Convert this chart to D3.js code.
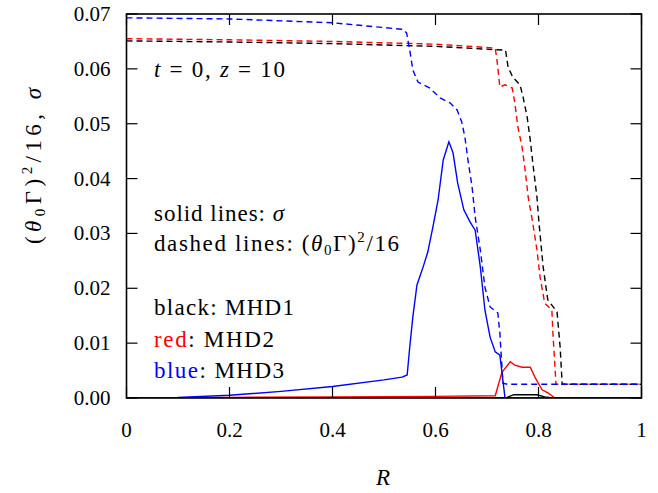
<!DOCTYPE html>
<html>
<head>
<meta charset="utf-8">
<script src="https://cdn.jsdelivr.net/npm/d3@7"></script>
<style>
  body { margin: 0; background: #fff; }
  text { font-family: "Liberation Serif", "DejaVu Serif", serif; fill: #000; }
</style>
</head>
<body>
<div id="chart"></div>
<script>
// [R, value] pairs
var mhd1Sigma = [[0, 0], [0.72, 0], [0.739, 0.0001], [0.752, 0.0006], [0.797, 0.0006], [0.812, 0.0002], [0.828, 0], [1, 0]];
var mhd2Sigma = [[0, 0], [0.2, 0.0001], [0.4, 0.0002], [0.6, 0.0003], [0.716, 0.0004], [0.729, 0.0047], [0.745, 0.0066],
  [0.754, 0.0060], [0.768, 0.0056], [0.784, 0.0056], [0.793, 0.0038], [0.807, 0.0015], [0.819, 0.0009], [0.832, 0], [1, 0]];
var mhd3Sigma = [[0, 0], [0.1, 0.0001], [0.2, 0.0005], [0.3, 0.0012], [0.4, 0.0021], [0.5, 0.0033], [0.535, 0.0038],
  [0.545, 0.0042], [0.550, 0.0093], [0.556, 0.0148], [0.564, 0.0206], [0.576, 0.0239], [0.585, 0.0266], [0.595, 0.0312],
  [0.605, 0.0361], [0.615, 0.0434], [0.626, 0.0467], [0.634, 0.0447], [0.643, 0.0392], [0.655, 0.0343], [0.667, 0.0321],
  [0.677, 0.0306], [0.687, 0.0239], [0.696, 0.0160], [0.706, 0.0111], [0.716, 0.0084], [0.725, 0.0078], [0.735, 0], [1, 0]];

var mhd1Gamma = [[0, 0.0651], [0.2, 0.0649], [0.4, 0.0646], [0.6, 0.0641], [0.736, 0.0634], [0.741, 0.0603], [0.750, 0.0585],
  [0.764, 0.0571], [0.770, 0.0549], [0.778, 0.0512], [0.784, 0.0470], [0.789, 0.0428], [0.797, 0.0366], [0.801, 0.0319],
  [0.809, 0.0239], [0.818, 0.0179], [0.836, 0.0157], [0.842, 0.0093], [0.846, 0.0025], [1, 0.0025]];
var mhd2Gamma = [[0, 0.0655], [0.2, 0.0653], [0.4, 0.0650], [0.6, 0.0645], [0.716, 0.0638], [0.720, 0.0611], [0.725, 0.0567],
  [0.735, 0.0571], [0.749, 0.0565], [0.754, 0.0538], [0.760, 0.0494], [0.768, 0.0458], [0.774, 0.0416], [0.780, 0.0366],
  [0.788, 0.0324], [0.797, 0.0270], [0.803, 0.0221], [0.812, 0.0173], [0.826, 0.0160], [0.828, 0.0118], [0.834, 0.0025], [1, 0.0025]];
var mhd3Gamma = [[0, 0.0693], [0.2, 0.0691], [0.4, 0.0684], [0.537, 0.0672], [0.544, 0.0665], [0.550, 0.0634], [0.556, 0.0598],
  [0.566, 0.0576], [0.589, 0.0565], [0.609, 0.0547], [0.628, 0.0538], [0.642, 0.0525], [0.651, 0.0503], [0.657, 0.0476],
  [0.663, 0.0434], [0.671, 0.0385], [0.677, 0.0330], [0.687, 0.0270], [0.696, 0.0202], [0.706, 0.0166], [0.721, 0.0155],
  [0.725, 0.0118], [0.731, 0.0027], [0.74, 0.0025], [1, 0.0025]];

var xTicks = [0, 0.2, 0.4, 0.6, 0.8, 1];
var yTicks = [0, 0.01, 0.02, 0.03, 0.04, 0.05, 0.06, 0.07];

var margin = {top: 14, right: 16.5, bottom: 95, left: 126.5}
  , width = 658 - margin.left - margin.right
  , height = 493 - margin.top - margin.bottom;

var x = d3.scaleLinear().domain([0, 1]).range([0, width]);
var y = d3.scaleLinear().domain([0, 0.07]).range([height, 0]);

var svg = d3.select('#chart').append('svg')
  .attr('width', 658)
  .attr('height', 493);

var main = svg.append('g')
  .attr('transform', 'translate(' + margin.left + ',' + margin.top + ')');

main.append('clipPath').attr('id', 'clip')
  .append('rect').attr('width', width).attr('height', height);

// tick labels
main.selectAll('.xlab').data(xTicks).enter().append('text')
  .attr('x', function(d) { return x(d); })
  .attr('y', height + 39)
  .attr('text-anchor', 'middle')
  .style('font-size', '21px')
  .text(function(d) { return d === 0 || d === 1 ? d3.format('d')(d) : d3.format('.1f')(d); });

main.selectAll('.ylab').data(yTicks).enter().append('text')
  .attr('x', -16)
  .attr('y', function(d) { return y(d) + 7; })
  .attr('text-anchor', 'end')
  .style('font-size', '21px')
  .text(function(d) { return d3.format('.2f')(d); });

var line = d3.line()
  .x(function(d) { return x(d[0]); })
  .y(function(d) { return y(d[1]); });

var series = [
  [mhd1Gamma, '#000', true], [mhd2Gamma, '#f00', true], [mhd3Gamma, '#00f', true],
  [mhd1Sigma, '#000', false], [mhd2Sigma, '#f00', false], [mhd3Sigma, '#00f', false]
];

var g = main.append('g').attr('clip-path', 'url(#clip)');
g.selectAll('path').data(series).enter().append('path')
  .attr('d', function(d) { return line(d[0]); })
  .attr('fill', 'none')
  .attr('stroke', function(d) { return d[1]; })
  .attr('stroke-width', 1.4)
  .attr('stroke-dasharray', function(d) { return d[2] ? '6,4' : null; });

// inward ticks, all four sides
var tl = 11;
xTicks.forEach(function(t) {
  main.append('line').attr('x1', x(t)).attr('x2', x(t)).attr('y1', height).attr('y2', height - tl)
    .attr('stroke', '#000').attr('stroke-width', 1.2);
  main.append('line').attr('x1', x(t)).attr('x2', x(t)).attr('y1', 0).attr('y2', tl)
    .attr('stroke', '#000').attr('stroke-width', 1.2);
});
yTicks.forEach(function(t) {
  main.append('line').attr('x1', 0).attr('x2', tl).attr('y1', y(t)).attr('y2', y(t))
    .attr('stroke', '#000').attr('stroke-width', 1.2);
  main.append('line').attr('x1', width).attr('x2', width - tl).attr('y1', y(t)).attr('y2', y(t))
    .attr('stroke', '#000').attr('stroke-width', 1.2);
});

main.append('rect')
  .attr('width', width).attr('height', height)
  .attr('fill', 'none').attr('stroke', '#000').attr('stroke-width', 1.6);

// axis titles
svg.append('text')
  .attr('x', 383).attr('y', 485)
  .attr('text-anchor', 'middle')
  .style('font-size', '23px').style('font-style', 'italic')
  .text('R');

var yl = svg.append('text')
  .attr('transform', 'translate(41,166) rotate(-90)')
  .attr('text-anchor', 'middle')
  .attr('textLength', 156).attr('lengthAdjust', 'spacing')
  .style('font-size', '23px');
yl.append('tspan').text('(');
yl.append('tspan').style('font-style', 'italic').text('θ');
yl.append('tspan').attr('dy', 4).style('font-size', '15px').text('0');
yl.append('tspan').attr('dy', -4).text('Γ)');
yl.append('tspan').attr('dy', -9).style('font-size', '15px').text('2');
yl.append('tspan').attr('dy', 9).text('/16, ');
yl.append('tspan').style('font-style', 'italic').text('σ');

// annotations
var note = svg.append('g').style('font-size', '23px');
var t1 = note.append('text').attr('x', 154).attr('y', 77)
  .attr('textLength', 131).attr('lengthAdjust', 'spacing');
t1.append('tspan').style('font-style', 'italic').text('t');
t1.append('tspan').text(' = 0, ');
t1.append('tspan').style('font-style', 'italic').text('z');
t1.append('tspan').text(' = 10');

var t2 = note.append('text').attr('x', 154).attr('y', 221)
  .attr('textLength', 130).attr('lengthAdjust', 'spacing');
t2.append('tspan').text('solid lines: ');
t2.append('tspan').style('font-style', 'italic').text('σ');

var t3 = note.append('text').attr('x', 154).attr('y', 251)
  .attr('textLength', 245).attr('lengthAdjust', 'spacing');
t3.append('tspan').text('dashed lines: (');
t3.append('tspan').style('font-style', 'italic').text('θ');
t3.append('tspan').attr('dy', 4).style('font-size', '15px').text('0');
t3.append('tspan').attr('dy', -4).text('Γ)');
t3.append('tspan').attr('dy', -9).style('font-size', '15px').text('2');
t3.append('tspan').attr('dy', 9).text('/16');

var legendRows = [['black', '#000', ': MHD1', 315, 140], ['red', '#f00', ': MHD2', 347, 120], ['blue', '#00f', ': MHD3', 378, 130]];
legendRows.forEach(function(r) {
  var t = note.append('text').attr('x', 154).attr('y', r[3])
    .attr('textLength', r[4]).attr('lengthAdjust', 'spacing');
  t.append('tspan').style('fill', r[1]).text(r[0]);
  t.append('tspan').text(r[2]);
});
</script>
</body>
</html>
